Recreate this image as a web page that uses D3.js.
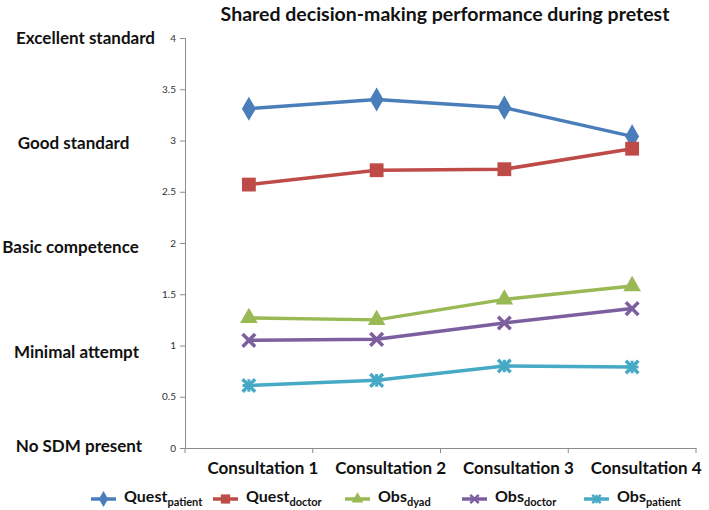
<!DOCTYPE html>
<html><head><meta charset="utf-8">
<script src="https://cdn.jsdelivr.net/npm/d3@7"></script>
<style>
html,body{margin:0;padding:0;background:#fff;}
text{font-family:Lato,"Open Sans",sans-serif;}
</style></head>
<body><svg id="chart" width="709" height="510"></svg>
<script>
const categories = ["Consultation 1","Consultation 2","Consultation 3","Consultation 4"];
const questPatient = [3.31, 3.40, 3.32, 3.04];
const questDoctor  = [2.57, 2.71, 2.72, 2.92];
const obsDyad      = [1.27, 1.25, 1.45, 1.58];
const obsDoctor    = [1.05, 1.06, 1.22, 1.36];
const obsPatient   = [0.61, 0.66, 0.80, 0.79];
const yTicks = [0, 0.5, 1, 1.5, 2, 2.5, 3, 3.5, 4];
const levelLabels = ["No SDM present","Minimal attempt","Basic competence","Good standard","Excellent standard"];
const levelValues = [0, 1, 2, 3, 4];
const title = "Shared decision-making performance during pretest";

const series = [
  {base:"Quest", sub:"patient", values:questPatient, color:"#4a7ebb", marker:"diamond"},
  {base:"Quest", sub:"doctor",  values:questDoctor,  color:"#be4b48", marker:"square"},
  {base:"Obs",   sub:"dyad",    values:obsDyad,      color:"#98b954", marker:"triangle"},
  {base:"Obs",   sub:"doctor",  values:obsDoctor,    color:"#7d5fa0", marker:"x"},
  {base:"Obs",   sub:"patient", values:obsPatient,   color:"#46aac5", marker:"star"}
];

const svg = d3.select("#chart");
const x = d3.scaleBand().domain(categories).range([185, 696]);
const y = d3.scaleLinear().domain([0, 4]).range([448, 38]);

// title
svg.append("text").attr("x", 445).attr("y", 21).attr("text-anchor","middle")
  .attr("font-size", 19.5).attr("font-weight", 700).attr("fill","#111").text(title);

// y axis
const yAxis = svg.append("g").attr("transform","translate(185,0)")
  .call(d3.axisLeft(y).tickValues(yTicks).tickSize(5).tickPadding(4).tickFormat(d3.format("")));
yAxis.select(".domain").attr("stroke","#8c8c8c");
yAxis.selectAll(".tick line").attr("stroke","#8c8c8c");
yAxis.selectAll(".tick text").attr("font-size",10).attr("fill","#333").style("font-family","Lato,'Open Sans',sans-serif");

// x axis
const xAxis = svg.append("g").attr("transform","translate(0,448)")
  .call(d3.axisBottom(x).tickSize(0).tickFormat(""));
xAxis.select(".domain").attr("stroke","#8c8c8c");
xAxis.selectAll(".tick").remove();
const bounds = categories.map(c => x(c)).concat([x.range()[1]]);
svg.append("g").selectAll("line").data(bounds).join("line")
  .attr("x1", d=>d).attr("x2", d=>d).attr("y1",448).attr("y2",453).attr("stroke","#8c8c8c");

// category labels
svg.append("g").selectAll("text").data(categories).join("text")
  .attr("x", d => x(d) + x.bandwidth()/2 + 14).attr("y", 474)
  .attr("text-anchor","middle").attr("font-size",17).attr("font-weight",700).attr("fill","#111")
  .text(d => d);

// level labels
const levelX = [79, 76.5, 70.5, 73.5, 85.5];
const levelDy = [4, 12, 10, 8, 6];
svg.append("g").selectAll("text").data(levelLabels).join("text")
  .attr("x", (d,i) => levelX[i]).attr("y", (d,i) => y(levelValues[i]) + levelDy[i])
  .attr("text-anchor","middle").attr("font-size",17).attr("font-weight",700).attr("fill","#111")
  .text(d => d);

function markerPath(type, s) {
  switch(type) {
    case "diamond": return d3.symbol(d3.symbolDiamond, s*s*0.75)();
    case "square": return d3.symbol(d3.symbolSquare, s*s*0.85)();
    case "triangle": return d3.symbol(d3.symbolTriangle, s*s*0.6)();
    default: return null;
  }
}
function drawMarker(g, type, cx, cy, color, s, sw) {
  if (type === "x" || type === "star") {
    const r = s*0.42;
    const mg = g.append("g").attr("transform",`translate(${cx},${cy})`);
    mg.append("path").attr("d",`M${-r},${-r}L${r},${r}M${-r},${r}L${r},${-r}`)
      .attr("stroke",color).attr("stroke-width",sw).attr("fill","none");
    if (type === "star") {
      mg.append("path").attr("d",`M${-r},0L${r},0M0,${-r}L0,${r}`)
        .attr("stroke",color).attr("stroke-width",sw*0.85).attr("fill","none");
    }
  } else {
    g.append("path").attr("d", markerPath(type, s))
      .attr("transform",`translate(${cx},${cy})`).attr("fill",color);
  }
}

const line = d3.line().x((d,i)=> x(categories[i]) + x.bandwidth()/2).y(d=>y(d));
series.forEach(sr => {
  const g = svg.append("g");
  g.append("path").attr("d", line(sr.values)).attr("fill","none")
    .attr("stroke", sr.color).attr("stroke-width",3.5).attr("stroke-linejoin","round");
  sr.values.forEach((v,i) => drawMarker(g, sr.marker, x(categories[i]) + x.bandwidth()/2, y(v), sr.color, 15, 3.5));
});

// legend
const legendX = [91, 213, 345, 462, 584];
const legendY = 499;
const lg = svg.append("g");
series.forEach((sr,i) => {
  const g = lg.append("g").attr("transform",`translate(${legendX[i]},${legendY})`);
  g.append("line").attr("x1",0).attr("x2",25).attr("y1",0).attr("y2",0)
    .attr("stroke",sr.color).attr("stroke-width",3.5);
  drawMarker(g, sr.marker, 12.5, 0, sr.color, 10, 2.5);
  const t = g.append("text").attr("x",33).attr("y",3).attr("font-weight",700).attr("fill","#111");
  t.append("tspan").attr("font-size",16).text(sr.base);
  t.append("tspan").attr("font-size",11).attr("dy",4).text(sr.sub);
});
</script>
</body></html>
